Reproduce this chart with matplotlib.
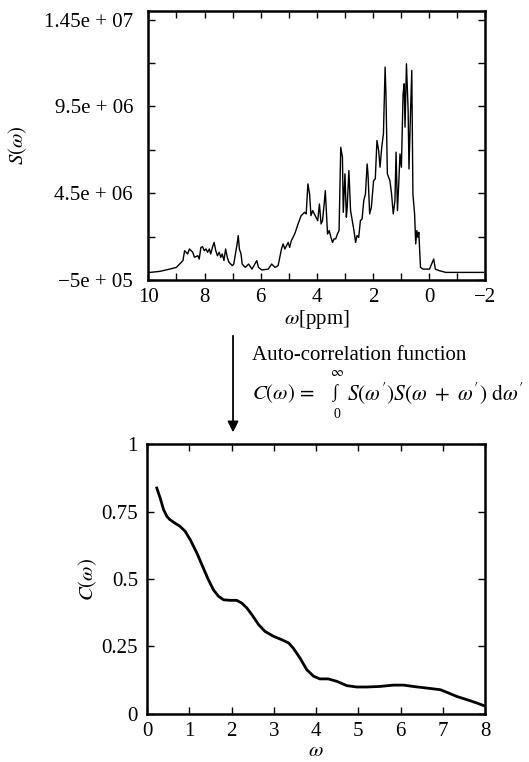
import matplotlib
matplotlib.use('Agg')
import matplotlib.pyplot as plt
from matplotlib.ticker import FixedLocator, NullFormatter

plt.rcParams['font.family'] = ['Liberation Serif', 'DejaVu Serif']
plt.rcParams['mathtext.fontset'] = 'stix'
plt.rcParams['font.size'] = 15

# --- spectrum S(omega), values (ppm, 1e6 units) ---
ppm = [9.94, 9.59, 9.24, 9.00, 8.89, 8.77, 8.71, 8.60, 8.54, 8.42, 8.36, 8.24, 8.19,
       8.13, 8.07, 8.01, 7.95, 7.89, 7.83, 7.78, 7.72, 7.66, 7.60, 7.54, 7.48, 7.42,
       7.37, 7.31, 7.25, 7.19, 7.13, 7.01, 6.96, 6.90, 6.84, 6.80, 6.76, 6.70, 6.66,
       6.55, 6.43, 6.31, 6.14, 6.08, 5.96, 5.73, 5.61, 5.49, 5.38, 5.26, 5.20, 5.14,
       5.02, 4.97, 4.91, 4.79, 4.67, 4.56, 4.44, 4.38, 4.32, 4.26, 4.21, 4.15, 4.09,
       4.03, 3.97, 3.91, 3.85, 3.80, 3.74, 3.70, 3.65, 3.62, 3.56, 3.50, 3.44, 3.39,
       3.33, 3.27, 3.21, 3.15, 3.09, 3.06, 3.00, 2.95, 2.92, 2.86, 2.80, 2.74, 2.68,
       2.62, 2.57, 2.51, 2.45, 2.39, 2.33, 2.27, 2.21, 2.18, 2.12, 2.06, 1.98, 1.92,
       1.86, 1.80, 1.75, 1.69, 1.63, 1.57, 1.54, 1.49, 1.40, 1.34, 1.28, 1.22, 1.18,
       1.13, 1.08, 1.04, 0.99, 0.93, 0.89, 0.86, 0.83, 0.81, 0.75, 0.72, 0.67, 0.62,
       0.58, 0.52, 0.48, 0.44, 0.40, 0.37, 0.31, 0.22, -0.01, -0.16, -0.22, -0.36,
       -0.59, -0.95, -1.41, -1.94]
spec = [-0.06, 0.00, 0.13, 0.23, 0.42, 0.62, 1.19, 1.00, 1.29, 1.10, 0.81, 0.90, 0.71,
        1.38, 1.42, 1.19, 1.29, 1.10, 1.29, 1.00, 1.38, 1.67, 1.19, 0.90, 1.10, 0.81,
        1.00, 0.62, 1.29, 0.81, 0.52, 0.33, 0.42, 1.00, 1.58, 2.06, 1.29, 1.00, 0.42,
        0.23, 0.42, 0.13, 0.62, 0.23, 0.08, 0.13, 0.42, 0.23, 0.33, 1.29, 1.58, 1.29,
        1.67, 1.38, 1.77, 2.15, 2.73, 3.21, 3.40, 3.31, 5.04, 4.46, 3.21, 3.50, 3.31,
        3.12, 2.92, 3.88, 2.73, 2.92, 3.88, 4.65, 3.12, 2.15, 2.35, 1.96, 1.67, 1.87,
        1.87, 2.15, 2.35, 7.15, 6.58, 3.40, 5.62, 3.12, 3.69, 5.81, 3.50, 2.92, 2.35,
        1.67, 2.06, 1.96, 2.92, 3.02, 4.08, 4.46, 6.19, 5.62, 3.31, 3.69, 5.23, 5.33,
        7.54, 6.96, 6.00, 7.15, 7.92, 11.77, 10.23, 5.62, 5.23, 4.46, 3.31, 4.08, 6.87,
        3.50, 5.23, 6.77, 6.00, 10.23, 10.81, 8.31, 10.62, 11.96, 9.27, 5.90, 8.88, 11.58,
        4.46, 3.31, 1.58, 2.35, 1.96, 2.25, 0.23, 0.13, 0.13, 0.71, 0.13, 0.04,
        -0.06, -0.06, -0.06, -0.06]

# --- auto-correlation C(omega) ---
w = [0.23, 0.31, 0.39, 0.47, 0.54, 0.66, 0.78, 0.90, 1.02, 1.18, 1.33, 1.45, 1.57,
     1.69, 1.81, 1.96, 2.12, 2.24, 2.36, 2.48, 2.64, 2.79, 2.99, 3.19, 3.35, 3.46,
     3.62, 3.78, 3.94, 4.09, 4.29, 4.49, 4.73, 4.96, 5.20, 5.51, 5.83, 6.07, 6.30,
     6.62, 6.94, 7.13, 7.33, 7.57, 7.80, 7.97]
corr = [0.837, 0.800, 0.757, 0.732, 0.720, 0.707, 0.695, 0.677, 0.646, 0.596, 0.541,
        0.498, 0.460, 0.436, 0.423, 0.421, 0.421, 0.411, 0.393, 0.368, 0.331, 0.306,
        0.288, 0.275, 0.263, 0.244, 0.207, 0.164, 0.140, 0.130, 0.130, 0.121, 0.105,
        0.100, 0.100, 0.102, 0.107, 0.107, 0.102, 0.096, 0.090, 0.078, 0.065, 0.053,
        0.041, 0.031]

s_ticks = [-5e5, 4.5e6, 9.5e6, 1.45e7]
s_labels = ['\u22125e + 05', '4.5e + 06', '9.5e + 06', '1.45e + 07']
s_minor = [2e6, 7e6, 1.2e7]
ppm_ticks = [10, 8, 6, 4, 2, 0, -2]
ppm_labels = ['10', '8', '6', '4', '2', '0', '\u22122']
c_ticks = [0, 0.25, 0.5, 0.75, 1]
c_labels = ['0', '0.25', '0.5', '0.75', '1']


def style(ax, ypad):
    for sp in ax.spines.values():
        sp.set_linewidth(1.8)
    ax.tick_params(which='both', direction='in', top=True, right=True,
                   length=5, width=1)
    ax.tick_params(axis='y', pad=ypad)
    ax.tick_params(axis='x', pad=6)


fig = plt.figure(figsize=(5.29, 7.62), dpi=100)

ax1 = fig.add_axes([0.2805, 0.6325, 0.637, 0.353])
ax1.plot(ppm, [v * 1e6 for v in spec], color='black', lw=1.0)
ax1.set_xlim(10, -2)
ax1.set_ylim(-5e5, 1.5e7)
ax1.yaxis.set_major_locator(FixedLocator(s_ticks))
ax1.set_yticklabels(s_labels)
ax1.yaxis.set_minor_locator(FixedLocator(s_minor))
ax1.xaxis.set_major_locator(FixedLocator(ppm_ticks))
ax1.set_xticklabels(ppm_labels)
ax1.xaxis.set_minor_locator(FixedLocator([9, 7, 5, 3, 1, -1]))
ax1.xaxis.set_minor_formatter(NullFormatter())
style(ax1, 11)
ax1.set_ylabel(r'$S(\omega)$')
ax1.yaxis.set_label_coords(-0.355, 0.5)
ax1.set_xlabel(r'$\omega$[ppm]')
ax1.xaxis.set_label_coords(0.5, -0.105)

ax2 = fig.add_axes([0.278, 0.063, 0.639, 0.3543])
ax2.plot(w, corr, color='black', lw=2.0)
ax2.set_xlim(0, 8)
ax2.set_ylim(0, 1)
ax2.set_xticks(range(0, 9))
ax2.set_yticks(c_ticks)
ax2.set_yticklabels(c_labels)
style(ax2, 6.5)
ax2.set_ylabel(r'$C(\omega)$')
ax2.yaxis.set_label_coords(-0.142, 0.5)
ax2.set_xlabel(r'$\omega$')
ax2.xaxis.set_label_coords(0.5, -0.105)

# arrow and formula between the panels
ax2.annotate('', xy=(0.4405, 0.429), xytext=(0.4405, 0.563),
             xycoords='figure fraction', textcoords='figure fraction',
             arrowprops=dict(arrowstyle='-|>', color='black', lw=1.3,
                             mutation_scale=16))
fig.text(0.476, 0.533, 'Auto-correlation function', va='center', ha='left')
fig.text(0.476, 0.484, r'$C(\omega)\,=\,$', va='center', ha='left')
fig.text(0.630, 0.484, '\u222b', va='center', ha='left', fontsize=13)
fig.text(0.637, 0.511, r'$\infty$', va='center', ha='center', fontsize=10)
fig.text(0.637, 0.456, '0', va='center', ha='center', fontsize=10)
fig.text(0.656, 0.484, r"$S(\omega')S(\omega\ +\ \omega')\ \mathrm{d}\omega'$",
         va='center', ha='left', fontsize=15.5)

fig.savefig('out.png', dpi=100)
